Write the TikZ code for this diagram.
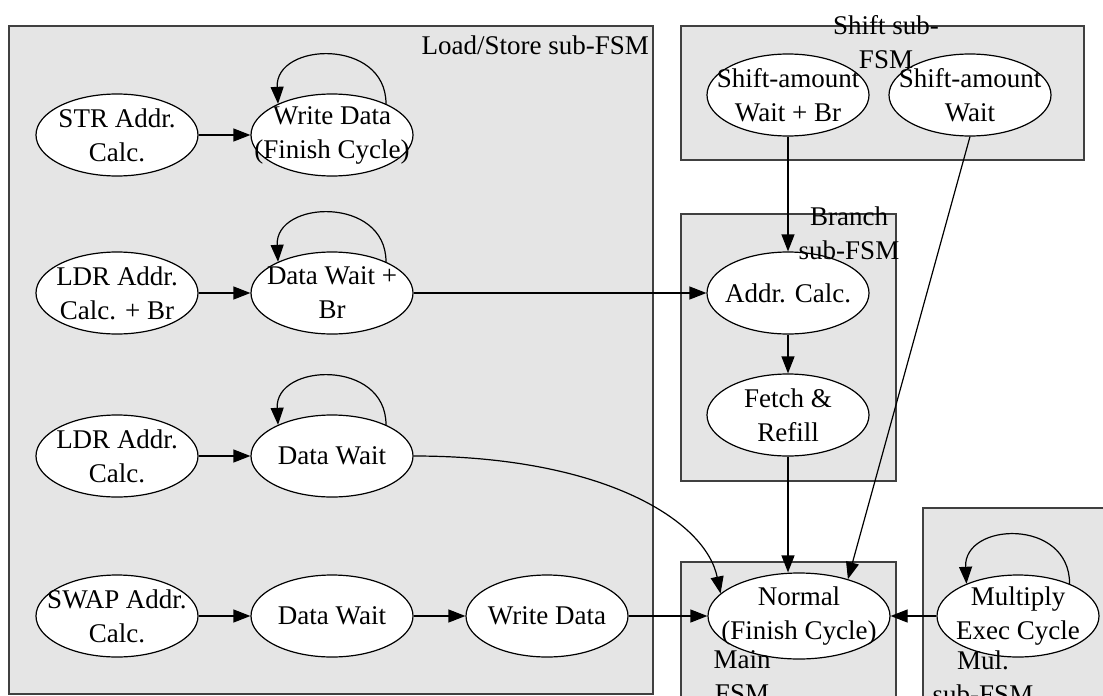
\documentclass[tikz,border=0pt]{standalone}
\usepackage{fontspec}
\setmainfont{Liberation Serif}
\usetikzlibrary{shapes.geometric,arrows.meta}
\begin{document}
\begin{tikzpicture}[x=1pt,y=-1pt,
  subfsm/.style={draw=black!75, line width=1.6pt, fill=black!10},
  st/.style={ellipse, draw, line width=1.2pt, fill=white,
    minimum width=162pt, minimum height=82pt, inner sep=0pt},
  wide/.style={minimum width=182pt, minimum height=86pt},
  txt/.style={font=\fontsize{27}{34}\selectfont, align=center, inner sep=0pt},
  arr/.style={line width=1.2pt, -{Triangle[length=17pt,width=13pt]}}]
\useasboundingbox (0,0) rectangle (1103,696);
\clip (0,0) rectangle (1103,696);

% sub-FSM frames
\draw[subfsm] (9,26) rectangle (653,694);
\draw[subfsm] (681,26) rectangle (1084,160);
\draw[subfsm] (681,214) rectangle (896,481);
\draw[subfsm] (681,562) rectangle (896,720);
\draw[subfsm] (923,508) rectangle (1120,720);

% load/store states
\node[st] (str) at (117,135) {};
\node[txt] (strT) at (str) {STR Addr.\\Calc.};
\node[st] (wd1) at (332,135) {};
\node[txt] (wd1T) at (wd1) {Write Data\\(Finish Cycle)};

\node[st] (ldb) at (117,293) {};
\node[txt] (ldbT) at (ldb) {LDR Addr.\\Calc. + Br};
\node[st] (dwb) at (332,293) {};
\node[txt] (dwbT) at (dwb) {Data Wait +\\Br};

\node[st] (ldr) at (117,456) {};
\node[txt] (ldrT) at (ldr) {LDR Addr.\\Calc.};
\node[st] (dw3) at (332,456) {};
\node[txt] (dw3T) at (dw3) {Data Wait};

\node[st] (swp) at (117,616) {};
\node[txt] (swpT) at (swp) {SWAP Addr.\\Calc.};
\node[st] (dw4) at (332,616) {};
\node[txt] (dw4T) at (dw4) {Data Wait};
\node[st] (wd4) at (547,616) {};
\node[txt] (wd4T) at (wd4) {Write Data};

% shift states
\node[st] (sb) at (788,95) {};
\node[txt] (sbT) at (sb) {Shift-amount\\Wait + Br};
\node[st] (sw) at (970,95) {};
\node[txt] (swT) at (sw) {Shift-amount\\Wait};

% branch states
\node[st] (ac) at (788,293) {};
\node[txt] (acT) at (ac) {Addr. Calc.};
\node[st] (fr) at (788,415) {};
\node[txt] (frT) at (fr) {Fetch \&\\Refill};

% main and multiply states
\node[st, wide] (nm) at (799,616) {};
\node[txt] (nmT) at (nm) {Normal\\(Finish Cycle)};
\node[st] (mul) at (1018,616) {};
\node[txt] (mulT) at (mul) {Multiply\\Exec Cycle};

% transitions
\draw[arr] (str) -- (wd1);
\draw[arr] (wd1.30) .. controls +(0,-66) and +(-3,-62) .. (wd1.150);
\draw[arr] (ldb) -- (dwb);
\draw[arr] (dwb.30) .. controls +(0,-66) and +(-3,-62) .. (dwb.150);
\draw[arr] (dwb) -- (ac);
\draw[arr] (ldr) -- (dw3);
\draw[arr] (dw3.30) .. controls +(0,-66) and +(-3,-62) .. (dw3.150);
\draw[arr] (dw3.east) .. controls +(190,0) and +(-15,-73) .. (nm.164);
\draw[arr] (swp) -- (dw4);
\draw[arr] (dw4) -- (wd4);
\draw[arr] (wd4) -- (nm);
\draw[arr] (sb) -- (ac);
\draw[arr] (ac) -- (fr);
\draw[arr] (fr.south) -- (fr.south |- nm.north);
\draw[arr] (sw.south) -- (nm.37);
\draw[arr] (mul) -- (nm);
\draw[arr] (mul.32) .. controls +(0,-66) and +(-3,-62) .. (mul.148);

% frame titles
\node[txt, anchor=east] (lsT) at (649,45) {Load/Store sub-FSM};
\node[txt] (shT) at (886,42) {Shift sub-\\FSM};
\node[txt] (brT) at (849,233) {Branch\\sub-FSM};
\node[txt] (mnT) at (742,677) {Main\\FSM};
\node[txt] (mlT) at (983,677) {Mul.\\sub-FSM};
\end{tikzpicture}
\end{document}
